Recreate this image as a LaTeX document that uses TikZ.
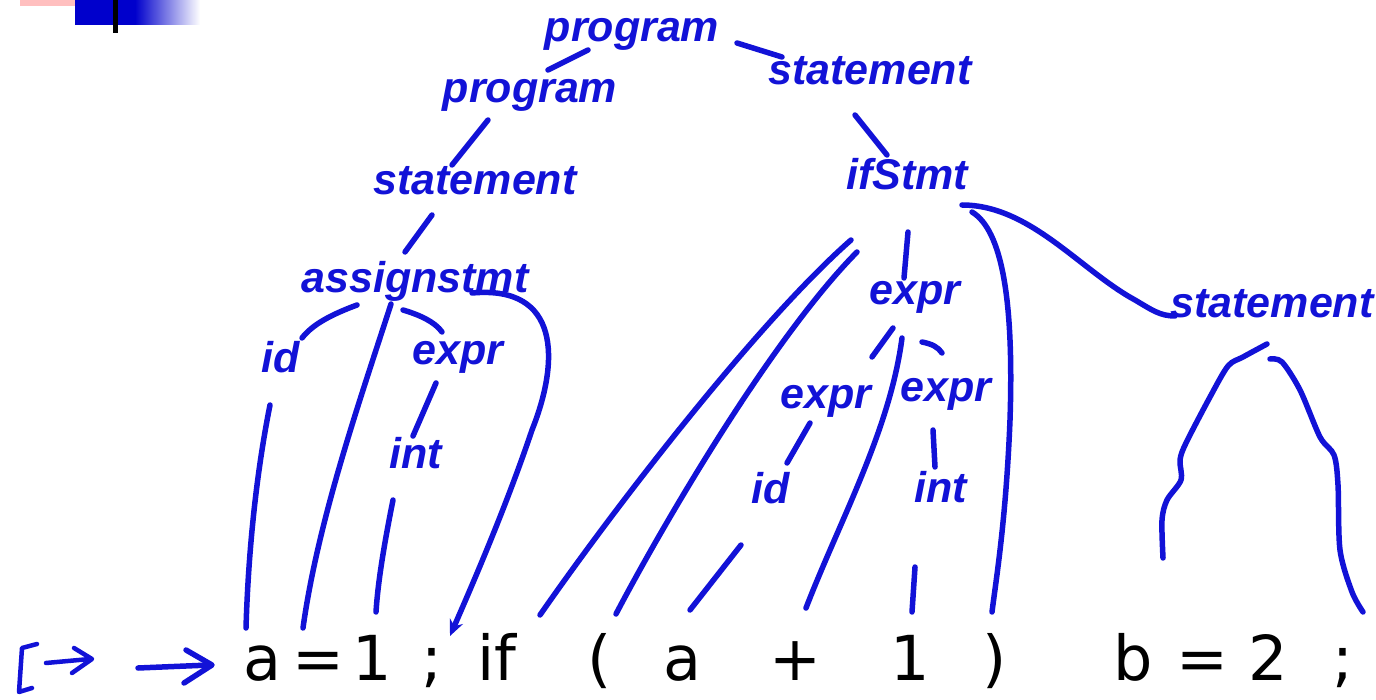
\documentclass[tikz,border=0pt]{standalone}
\usepackage{fontspec}
\setmainfont{DejaVu Sans}
\newfontfamily\hand{Liberation Sans}
\usetikzlibrary{arrows.meta}
\definecolor{ink}{RGB}{18,18,215}
\begin{document}
\begin{tikzpicture}[x=1pt,y=-1pt,
  lbl/.style={text=ink,font=\hand\bfseries\itshape\fontsize{43}{43}\selectfont,anchor=base,inner sep=0pt},
  tok/.style={font=\fontsize{62}{62}\selectfont,anchor=base,inner sep=0pt,text=black},
  edge/.style={draw=ink,line width=5.5pt,line cap=round,line join=round}]
\useasboundingbox (0,0) rectangle (1376,700);
% slide decoration
\fill[red!25] (20,0) rectangle (100,6);
\fill[blue!80!black] (75,0) rectangle (135,25);
\shade[left color=blue!80!black,right color=white] (135,0) rectangle (200,25);
\fill[black] (113,0) rectangle (118,33);
% labels
\node[lbl] (p1) at (632,42) {program};
\node[lbl] (p2) at (530,103) {program};
\node[lbl] (s1) at (870,85) {statement};
\node[lbl] (s2) at (475,195) {statement};
\node[lbl] (ifs) at (907,190) {ifStmt};
\node[lbl] (as) at (415,293) {assignstmt};
\node[lbl] (e0) at (915,305) {expr};
\node[lbl] (s3) at (1272,318) {statement};
\node[lbl] (id1) at (281,373) {id};
\node[lbl] (e1) at (458,365) {expr};
\node[lbl] (i1) at (416,468) {int};
\node[lbl] (e2) at (826,408) {expr};
\node[lbl] (e3) at (946,402) {expr};
\node[lbl] (id2) at (771,503) {id};
\node[lbl] (i2) at (941,502) {int};
% tokens
\node[tok] (ta) at (262,680) {a};
\node[tok] (teq) at (318,680) {=};
\node[tok] (t1) at (372,680) {1};
\node[tok] (tsc) at (432,680) {;};
\node[tok] (tif) at (497,680) {if};
\node[tok] (tlp) at (600,680) {(};
\node[tok] (ta2) at (682,680) {a};
\node[tok] (tpl) at (795,680) {+};
\node[tok] (t12) at (910,680) {1};
\node[tok] (trp) at (995,680) {)};
\node[tok] (tb) at (1133,680) {b};
\node[tok] (teq2) at (1202,680) {=};
\node[tok] (t2) at (1268,680) {2};
\node[tok] (tsc2) at (1343,680) {;};
% hand-drawn arrows at bottom left
\draw[edge,line width=4.5pt] (37,644) -- (22,648) -- (19,692) -- (32,688);
\draw[edge,line width=4.5pt] (46,663) -- (90,659);
\draw[edge,line width=4.5pt] (74,648) -- (92,659) -- (72,673);
\draw[edge] (138,668) -- (210,665);
\draw[edge] (186,650) -- (212,665) -- (184,683);
% connectors
\draw[edge] (588,50) -- (548,70);
\draw[edge] (737,43) -- (782,57);
\draw[edge] (488,120) -- (452,165);
\draw[edge] (855,115) -- (887,155);
\draw[edge] (432,215) -- (405,252);
\draw[edge] (908,232) -- (904,278);
\draw[edge] (962,205) .. controls (1030,205) and (1080,270) .. (1135,300) .. controls (1152,310) and (1160,316) .. (1175,316);
\draw[edge] (972,212) .. controls (1002,230) and (1014,300) .. (1010,420) .. controls (1006,520) and (996,580) .. (992,612);
\draw[edge] (851,240) .. controls (760,320) and (620,500) .. (540,615);
\draw[edge] (857,252) .. controls (770,340) and (660,530) .. (616,614);
\draw[edge] (902,338) .. controls (890,430) and (840,520) .. (806,608);
\draw[edge] (893,328) -- (872,357);
\draw[edge] (922,342) .. controls (932,344) and (938,347) .. (942,353);
\draw[edge] (810,423) -- (787,463);
\draw[edge] (933,430) -- (935,467);
\draw[edge] (741,545) -- (690,610);
\draw[edge] (915,567) -- (912,612);
% assignstmt subtree
\draw[edge] (357,305) .. controls (330,315) and (312,325) .. (302,338);
\draw[edge] (391,304) .. controls (360,400) and (318,520) .. (303,628);
\draw[edge] (403,310) .. controls (420,315) and (435,322) .. (442,332);
\draw[edge] (436,383) -- (413,436);
\draw[edge] (393,500) .. controls (385,540) and (378,580) .. (376,612);
\draw[edge] (270,405) .. controls (255,480) and (248,560) .. (246,628);
\draw[edge,-{Stealth[length=16pt,width=14pt]}] (472,293) .. controls (560,285) and (560,360) .. (532,430) .. controls (505,510) and (470,590) .. (450,636);
% far right statement subtree
\draw[edge] plot[smooth] coordinates {(1267,344) (1243,357) (1228,366) (1210,397) (1186,443) (1180,460) (1181,480) (1167,500) (1162,520) (1163,558)};
\draw[edge] plot[smooth] coordinates {(1270,359) (1282,362) (1300,390) (1320,437) (1334,455) (1338,485) (1340,550) (1352,592) (1363,612)};
\end{tikzpicture}
\end{document}
